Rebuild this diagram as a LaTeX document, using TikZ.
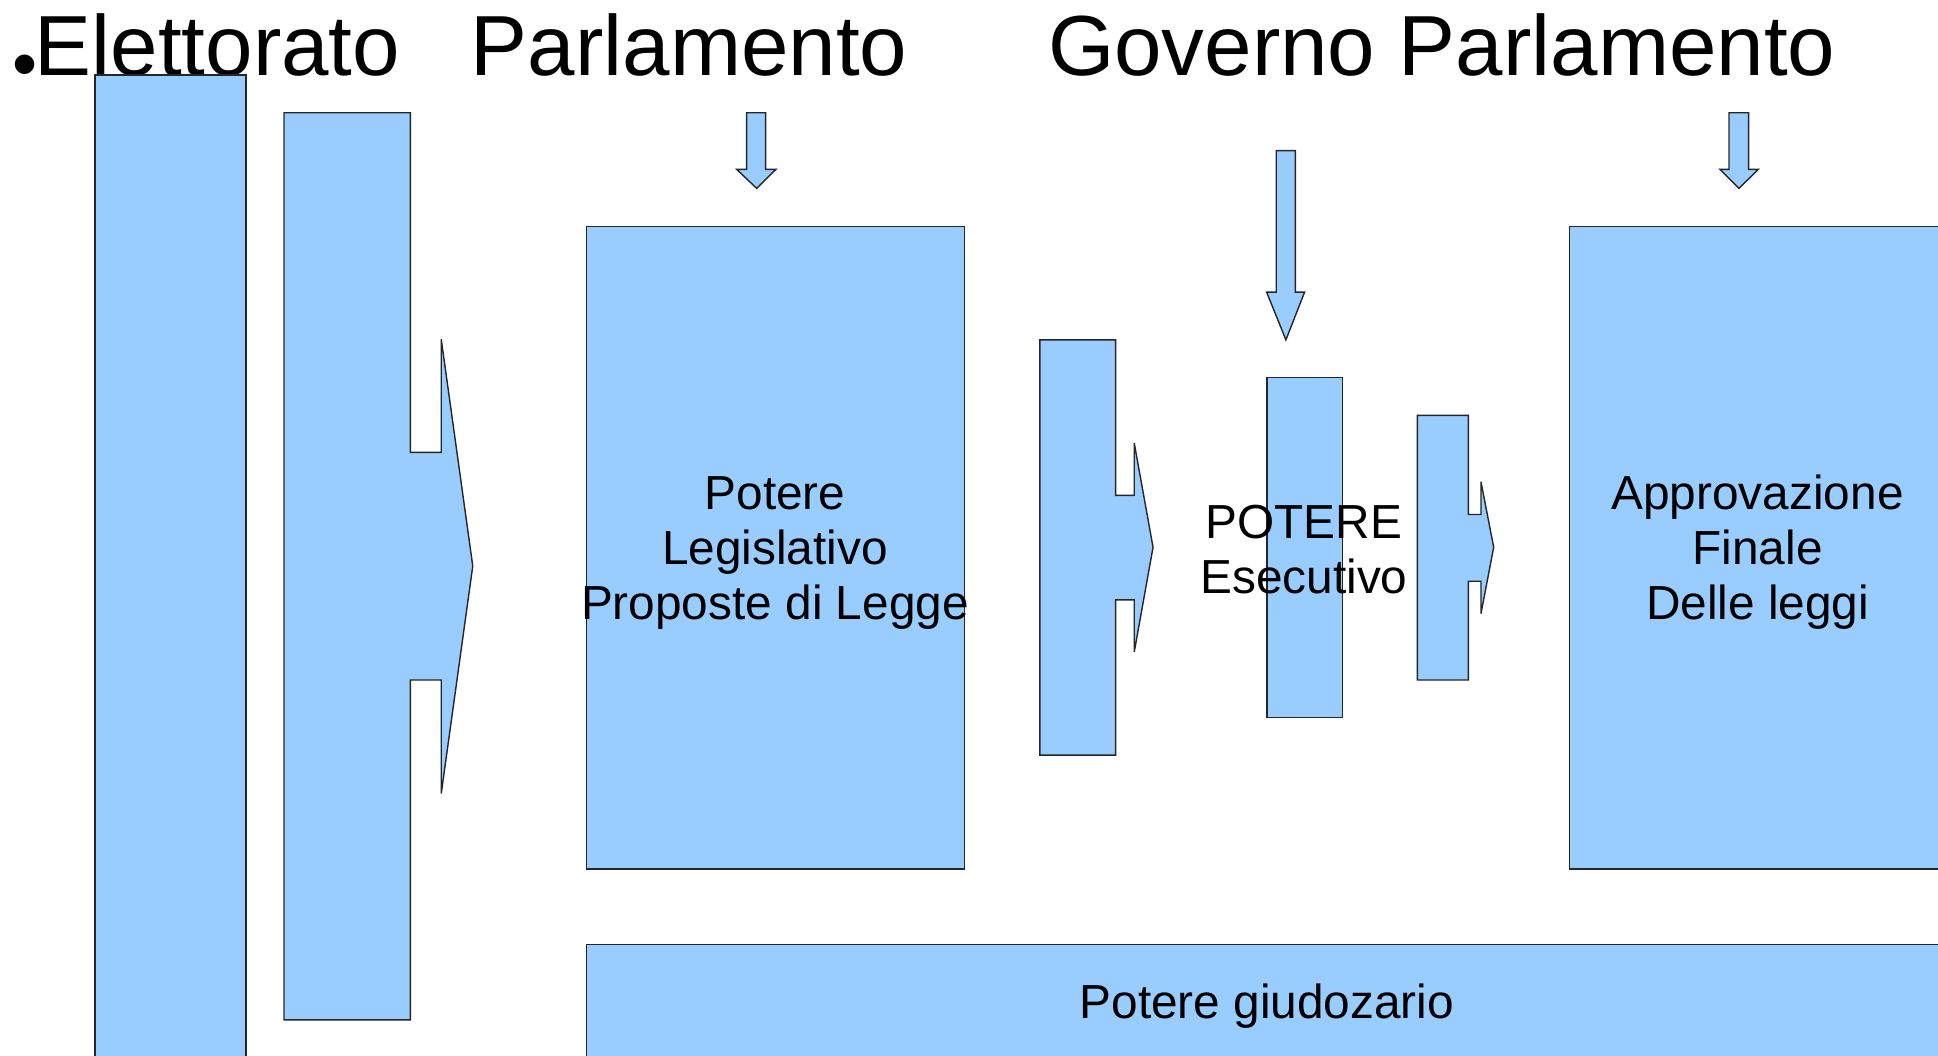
\documentclass[tikz,border=0pt]{standalone}
\usepackage{fontspec}
\setmainfont{Liberation Sans}
\usetikzlibrary{fit}
\definecolor{boxblue}{HTML}{99CCFF}
\begin{document}
\begin{tikzpicture}[x=0.02cm,y=-0.02cm,
  blockshape/.style={fill=boxblue,draw=black!85,line width=0.65pt},
  box/.style={blockshape,rectangle,inner sep=0pt},
  titletext/.style={inner sep=0pt,anchor=base,font=\fontsize{39.3}{47}\selectfont},
  boxtext/.style={inner sep=0pt,anchor=base,font=\fontsize{22}{26}\selectfont}]
\useasboundingbox (0,0) rectangle (1568,854);
\clip (0,0) rectangle (1568,854);
% titles
\node[inner sep=0pt,anchor=base,font=\fontsize{33}{40}\selectfont] (bullet) at (20.6,72) {•};
\node[titletext] (elett) at (176,61) {Elettorato};
\node[titletext] (parl) at (557.5,61) {Parlamento};
\node[titletext] (gov) at (1166.5,61) {Governo Parlamento};
% Elettorato bar
\node[box,fit={(76.8,60.7) (199.1,870)}] (bar) {};
% big arrow 1
\draw[blockshape] (229.8,91.2) -- (332,91.2) -- (332,366) -- (357,366) -- (357,274.5)
  -- (382.5,458) -- (357,642) -- (357,550.2) -- (332,550.2) -- (332,825.2) -- (229.8,825.2) -- cycle;
% down arrow 1
\draw[blockshape] (604.1,91.2) -- (619.5,91.2) -- (619.5,137) -- (627.8,137) -- (612.2,152.4)
  -- (596,137) -- (604.1,137) -- cycle;
% Potere legislativo
\node[box,fit={(474.4,183.3) (780.3,703)}] (leg) {};
\node[boxtext] (legA) at (627,412) {Potere};
\node[boxtext] (legB) at (627,457) {Legislativo};
\node[boxtext] (legC) at (627,501) {Proposte di Legge};
% arrow 2
\draw[blockshape] (841.3,275) -- (902.6,275) -- (902.6,400.8) -- (917.7,400.8) -- (917.7,358.6)
  -- (932.9,442.8) -- (917.7,527.4) -- (917.7,485.4) -- (902.6,485.4) -- (902.6,611) -- (841.3,611) -- cycle;
% Governo down arrow
\draw[blockshape] (1032.6,121.9) -- (1048.1,121.9) -- (1048.1,236.4) -- (1055.5,236.4) -- (1040.4,275)
  -- (1024.8,236.4) -- (1032.6,236.4) -- cycle;
% POTERE box
\node[box,fit={(1025,305.5) (1086.2,580.4)}] (esec) {};
\node[boxtext] (esecA) at (1055,436) {POTERE};
\node[boxtext] (esecB) at (1055,480) {Esecutivo};
% arrow 3
\draw[blockshape] (1146.8,336.1) -- (1188,336.1) -- (1188,416.3) -- (1198.2,416.3) -- (1198.2,389.7)
  -- (1208.5,442.8) -- (1198.2,496.5) -- (1198.2,470.3) -- (1188,470.3) -- (1188,550.2) -- (1146.8,550.2) -- cycle;
% down arrow 3
\draw[blockshape] (1398.9,91.2) -- (1414.8,91.2) -- (1414.8,137) -- (1422.6,137) -- (1407,152.4)
  -- (1391.6,137) -- (1398.9,137) -- cycle;
% Approvazione box
\node[box,fit={(1269.8,183.3) (1580,703)}] (appr) {};
\node[boxtext] (apprA) at (1422,412) {Approvazione};
\node[boxtext] (apprB) at (1422,457) {Finale};
\node[boxtext] (apprC) at (1422,501) {Delle leggi};
% Potere giudiziario
\node[box,fit={(474.4,764) (1580,870)}] (giud) {};
\node[boxtext] (giudA) at (1025,824) {Potere giudozario};
\end{tikzpicture}
\end{document}
